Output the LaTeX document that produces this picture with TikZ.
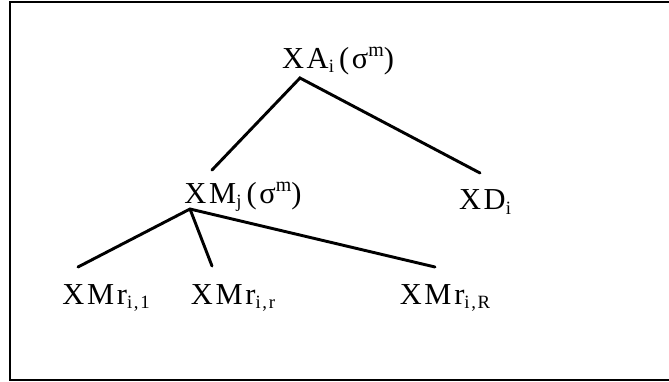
\documentclass[tikz,border=0pt]{standalone}
\usepackage{fontspec}
\setmainfont{Liberation Serif}[LetterSpace=9]
\usepackage{tikz}
\usetikzlibrary{positioning}

\newcommand{\lo}[1]{\raisebox{-0.3ex}{\fontsize{16}{16}\selectfont #1}}
\newcommand{\hi}[1]{\raisebox{0.85ex}{\fontsize{17}{17}\selectfont #1}}

\begin{document}
\begin{tikzpicture}[x=0.03cm,y=-0.03cm,
  lbl/.style={inner sep=0pt,font=\fontsize{26}{29}\selectfont},
  branch/.style={line width=2.5pt,line cap=round}]
\useasboundingbox (0,0) rectangle (669,381);
\draw[line width=1.8pt] (669,2) -- (10,2) -- (10,380) -- (669,380);
% labels
\node[lbl] (xa) at (338,61) {XA\lo{i}\,(σ\hi{m})};
\node[lbl] (xm) at (243,197) {XM\lo{j}\,(σ\hi{m})};
\node[lbl] (xd) at (485,202) {XD\lo{i}};
\node[lbl] (r1) at (106,298) {XMr\lo{i,1}};
\node[lbl] (rr) at (233,298) {XMr\lo{i,r}};
\node[lbl] (rR) at (445,298) {XMr\lo{i,R}};
% branch points
\coordinate (xa-foot) at (300,78);
\coordinate (xm-top) at (212,170);
\coordinate (xd-top) at (480,173);
\coordinate (xm-foot) at (190,209);
\coordinate (r1-top) at (78,267);
\coordinate (rr-top) at (212,266);
\coordinate (rR-top) at (435,267);
\draw[branch] (xm-top) -- (xa-foot) -- (xd-top);
\draw[branch] (xm-foot) -- (r1-top);
\draw[branch] (xm-foot) -- (rr-top);
\draw[branch] (xm-foot) -- (rR-top);
\end{tikzpicture}
\end{document}
